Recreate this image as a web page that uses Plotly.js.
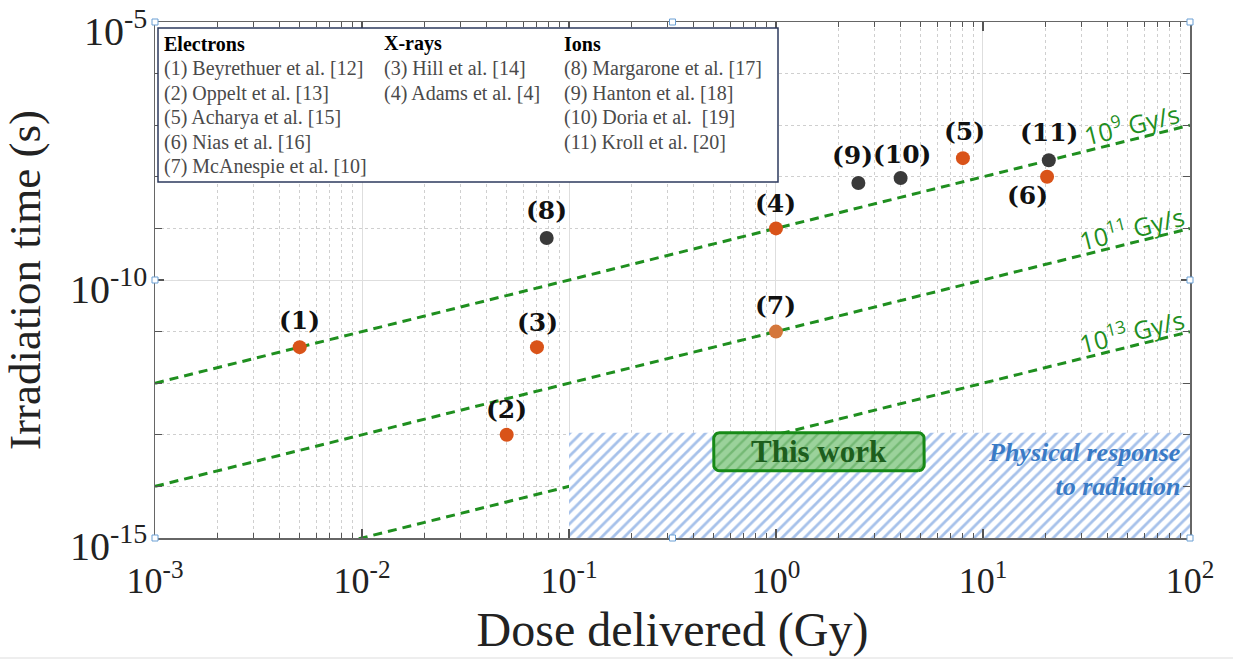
<!DOCTYPE html>
<html><head><meta charset="utf-8">
<script src="https://cdn.plot.ly/plotly-3.0.1.min.js"></script>
<style>html,body{margin:0;padding:0;background:#fff}#chart{width:1233px;height:664px}</style>
</head><body><div id="chart"></div>
<script>
// ---------------- data ----------------
const refLabels  = ['(1)','(2)','(3)','(4)','(5)','(6)','(7)','(8)','(9)','(10)','(11)'];
const doseGy     = [0.005, 0.05, 0.07, 1, 8, 20.4, 1, 0.078, 2.5, 4, 20.8];
const timeS      = [5e-12, 1e-13, 5e-12, 1e-9, 2.3e-8, 1e-8, 1e-11, 6.5e-10, 7.6e-9, 9.5e-9, 2.1e-8];
const sourceType = ['Electrons','Electrons','X-rays','X-rays','Electrons','Electrons','Electrons','Ions','Ions','Ions','Ions'];

const doseRates      = [1e9, 1e11, 1e13];          // Gy/s iso-rate lines
const rateLabels     = ['10<sup>9</sup> Gy/s','10<sup>11</sup> Gy/s','10<sup>13</sup> Gy/s'];
const doseSpan       = [1e-3, 1e2];

const responseDose   = [0.1, 100];                 // "Physical response to radiation" region
const responseTime   = [1e-15, 1.1e-13];
const thisWorkDose   = [0.5, 5.2];
const thisWorkTime   = [2e-14, 1.1e-13];

const xTickVals  = [1e-3, 1e-2, 1e-1, 1e0, 1e1, 1e2];
const xTickText  = ['10<sup>-3</sup>','10<sup>-2</sup>','10<sup>-1</sup>','10<sup>0</sup>','10<sup>1</sup>','10<sup>2</sup>'];
const yTickVals  = [1e-15, 1e-10, 1e-5];
const yTickText  = ['10<sup>-15</sup>','10<sup>-10</sup>','10<sup>-5</sup>'];

const legendHeaders = ['Electrons','X-rays','Ions'];
const electronRefs  = ['(1) Beyrethuer et al. [12]','(2) Oppelt et al. [13]','(5) Acharya et al. [15]','(6) Nias et al. [16]','(7) McAnespie et al. [10]'];
const xrayRefs      = ['(3) Hill et al. [14]','(4) Adams et al. [4]'];
const ionRefs       = ['(8) Margarone et al. [17]','(9) Hanton et al. [18]','(10) Doria et al.  [19]','(11) Kroll et al. [20]'];

// ---------------- style ----------------
const W = 1233, H = 664, ML = 155, MR = 43, MT = 22, MB = 126;
const PW = W - ML - MR, PH = H - MT - MB;
const pxX = p => (p - ML) / PW;
const pxY = p => 1 - (p - MT) / PH;
const decX = PW / 5, decY = PH / 10;

const colorFor = {'Electrons':'#d95319','X-rays':'#d95319','Ions':'#3a3a3a'};
const colorOverride = {'(7)':'#d4773c'};
const labelShift = {'(1)':[0,27],'(2)':[0,25],'(3)':[1,25],'(4)':[0,25],'(5)':[2,27],'(6)':[-20,-19],
  '(7)':[0,26],'(8)':[0,28],'(9)':[-6,27],'(10)':[1,23],'(11)':[0,28]};
const serif = 'Liberation Serif';
const green = '#1f8f1f';

// minor ticks
const xMinor = [];
for (let e = -3; e < 2; e++) for (let m = 2; m <= 9; m++) xMinor.push(m * Math.pow(10, e));
const yMinor = [];
for (let e = -14; e <= -6; e++) yMinor.push(Math.pow(10, e));

const traces = [];

// iso dose-rate lines
doseRates.forEach(r => {
  traces.push({x: doseSpan, y: doseSpan.map(d => d / r), mode:'lines', type:'scatter',
    line:{color:green, width:3, dash:'9px,6px'}, hoverinfo:'skip', showlegend:false});
});

// physical response region (hatched)
traces.push({
  x:[responseDose[0],responseDose[1],responseDose[1],responseDose[0],responseDose[0]],
  y:[responseTime[0],responseTime[0],responseTime[1],responseTime[1],responseTime[0]],
  mode:'lines', type:'scatter', fill:'toself', line:{width:0, color:'rgba(0,0,0,0)'},
  fillcolor:'white',
  fillpattern:{shape:'/', fgcolor:'#a6c1ea', bgcolor:'white', size:8, solidity:0.35},
  hoverinfo:'skip', showlegend:false});

// "This work" rounded box
function roundedBox(xs, ys, rPx) {
  const lx0 = Math.log10(xs[0]), lx1 = Math.log10(xs[1]);
  const ly0 = Math.log10(ys[0]), ly1 = Math.log10(ys[1]);
  const rx = rPx / decX, ry = rPx / decY;
  const corners = [[lx1-rx, ly0+ry, -90], [lx1-rx, ly1-ry, 0], [lx0+rx, ly1-ry, 90], [lx0+rx, ly0+ry, 180]];
  const X = [], Y = [];
  corners.forEach(([cx, cy, a0]) => {
    for (let k = 0; k <= 6; k++) {
      const a = (a0 + k * 15) * Math.PI / 180;
      X.push(Math.pow(10, cx + rx * Math.cos(a)));
      Y.push(Math.pow(10, cy + ry * Math.sin(a)));
    }
  });
  X.push(X[0]); Y.push(Y[0]);
  return {X, Y};
}
const tw = roundedBox(thisWorkDose, thisWorkTime, 6);
traces.push({x: tw.X, y: tw.Y, mode:'lines', type:'scatter', fill:'toself',
  line:{color:'#178a17', width:3}, fillcolor:'#94cf94',
  fillpattern:{shape:'/', fgcolor:'#74b974', bgcolor:'#9bd29b', size:8, solidity:0.3},
  hoverinfo:'skip', showlegend:false});

// reference data points
traces.push({x: doseGy, y: timeS, mode:'markers', type:'scatter',
  marker:{size:14, color: sourceType.map((s, i) => colorOverride[refLabels[i]] || colorFor[s]), line:{width:0}},
  hoverinfo:'skip', showlegend:false});

// ---------------- annotations ----------------
const ann = [];
// y-axis tick labels (placed on the y scale, nudged like the original)
yTickVals.forEach((v, i) => {
  ann.push({x: pxX(149), xref:'paper', y: Math.log10(v), yref:'y', xanchor:'right', yanchor:'middle',
    yshift: -6, text: yTickText[i], showarrow:false,
    font:{family:serif, size:40, color:'#222'}});
});

refLabels.forEach((t, i) => {
  const s = labelShift[t] || [0, 25];
  ann.push({x: Math.log10(doseGy[i]), y: Math.log10(timeS[i]), xref:'x', yref:'y', text:'<b>' + t + '</b>',
    showarrow:false, xshift:s[0], yshift:s[1],
    font:{family:'DejaVu Serif', size:25, color:'#111'}});
});

const lineAngle = -Math.atan(decY / decX) * 180 / Math.PI;
doseRates.forEach((r, i) => {
  const d = 52;
  ann.push({x: Math.log10(d), y: Math.log10(d / r), xref:'x', yref:'y', text: rateLabels[i],
    showarrow:false, textangle: lineAngle, yshift: 16,
    font:{family:'Open Sans', size:25, color:green}});
});

ann.push({x: (Math.log10(thisWorkDose[0]) + Math.log10(thisWorkDose[1])) / 2,
  y: (Math.log10(thisWorkTime[0]) + Math.log10(thisWorkTime[1])) / 2, xref:'x', yref:'y',
  text:'<b>This work</b>', showarrow:false,
  font:{family:serif, size:31, color:'#1d5e1d'}});

ann.push({x: pxX(1182), y: pxY(469), xref:'paper', yref:'paper', xanchor:'right', yanchor:'middle',
  align:'right', text:'<b><i>Physical response<br>to radiation</i></b>', showarrow:false,
  font:{family:serif, size:26, color:'#3a7bc6'}});

// legend box text
const cols = [[legendHeaders[0], electronRefs, 162], [legendHeaders[1], xrayRefs, 382], [legendHeaders[2], ionRefs, 562]];
cols.forEach(([hdr, refs, cx]) => {
  ann.push({x: pxX(cx), y: pxY(44), xref:'paper', yref:'paper', xanchor:'left', yanchor:'middle',
    text:'<b>' + hdr + '</b>', showarrow:false, font:{family:serif, size:20, color:'#000'}});
  refs.forEach((r, k) => {
    ann.push({x: pxX(cx), y: pxY(68.5 + k * 24.6), xref:'paper', yref:'paper', xanchor:'left', yanchor:'middle',
      text:r, showarrow:false, font:{family:serif, size:20, color:'#4a4a4a'}});
  });
});

// ---------------- shapes ----------------
const shapes = [];
shapes.push({type:'rect', xref:'paper', yref:'paper', x0:pxX(158), x1:pxX(778), y0:pxY(182), y1:pxY(28),
  line:{color:'#2c3a5e', width:1.5}, fillcolor:'white', layer:'above'});
// selection handles
[[0,0],[0.5,0],[1,0],[0,1],[0.5,1],[1,1],[0,0.5],[1,0.5]].forEach(([hx, hy]) => {
  shapes.push({type:'rect', xref:'paper', yref:'paper', xsizemode:'pixel', ysizemode:'pixel',
    xanchor:hx, yanchor:hy, x0:-3, x1:3, y0:-3, y1:3, line:{color:'#6a9fd4', width:1}, fillcolor:'white'});
});
shapes.push({type:'line', xref:'paper', yref:'paper', x0:pxX(0), x1:pxX(W), y0:pxY(658), y1:pxY(658),
  line:{color:'#dddddd', width:1}});

// ---------------- layout ----------------
const axisCommon = {
  type:'log', showline:true, linecolor:'#666', linewidth:1.5, mirror:'allticks',
  ticks:'inside', ticklen:9, tickwidth:1.2, tickcolor:'#555', ticklabeloverflow:'allow',
  showgrid:true, gridcolor:'#dedede', gridwidth:1, zeroline:false, automargin:false
};
const layout = {
  width:W, height:H, margin:{l:ML, r:MR, t:MT, b:MB},
  paper_bgcolor:'white', plot_bgcolor:'white', showlegend:false,
  xaxis: Object.assign({}, axisCommon, {
    range:[-3.0002, 2.0002], tickmode:'array', tickvals:xTickVals, ticktext:xTickText,
    tickfont:{family:serif, size:36, color:'#222'}, ticklabelstandoff:10,
    minor:{tickmode:'array', tickvals:xMinor, ticks:'inside', ticklen:5, tickcolor:'#555', tickwidth:1,
      showgrid:true, gridcolor:'#cfcfcf', griddash:'dot', gridwidth:1},
    title:{text:'Dose delivered (Gy)', font:{family:serif, size:48, color:'#222'}, standoff:12}
  }),
  yaxis: Object.assign({}, axisCommon, {
    range:[-15.0005, -4.9995], tickmode:'array', tickvals:yTickVals, showticklabels:false,
    minor:{tickmode:'array', tickvals:yMinor, ticks:'inside', ticklen:7, tickcolor:'#555', tickwidth:1,
      showgrid:true, gridcolor:'#cfcfcf', griddash:'dot', gridwidth:1},
    title:{text:'Irradiation time (s)', font:{family:serif, size:45, color:'#222'}, standoff:100}
  }),
  annotations: ann, shapes: shapes
};
Plotly.newPlot('chart', traces, layout, {staticPlot:true, displayModeBar:false});
</script></body></html>
